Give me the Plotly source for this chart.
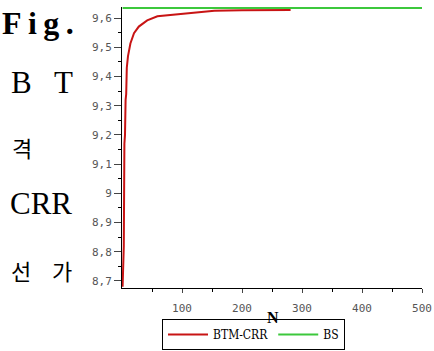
import plotly.graph_objects as go

# Data
crr_n = [1, 2, 3, 4, 5, 6, 7, 8, 10, 14, 20, 28, 42, 59, 84, 115, 137, 154, 200, 281]
crr_v = [8.68, 8.80, 8.82, 9.17, 9.20, 9.32, 9.34, 9.43, 9.47, 9.513, 9.548, 9.571, 9.592,
         9.606, 9.611, 9.617, 9.623, 9.625, 9.627, 9.628]
bs_n = [1, 500]
bs_v = [9.635, 9.635]
series_names = ["BTM-CRR", "BS"]
x_ticks = [100, 200, 300, 400, 500]
x_minor = [50, 150, 250, 350, 450]

W, H = 434, 351
L, R, T, B = 122, 12, 7, 63
pw, ph = W - L - R, H - T - B

def px(x):
    return (x - L) / pw

def py(y):
    return (H - B - y) / ph

fig = go.Figure()
fig.add_trace(go.Scatter(x=crr_n, y=crr_v, mode="lines", name=series_names[0],
                         line=dict(color="#c81414", width=2)))
fig.add_trace(go.Scatter(x=bs_n, y=bs_v, mode="lines", name=series_names[1],
                         line=dict(color="#3cc83c", width=2)))

tickfont = dict(family="DejaVu Sans Mono", size=11, color="#555")
fig.update_xaxes(range=[0, 500], tickvals=x_ticks, ticks="outside", ticklen=4,
                 ticklabelstandoff=6,
                 showline=True, linecolor="black", linewidth=1, showgrid=False, zeroline=False,
                 tickfont=tickfont, automargin=False,
                 minor=dict(ticks="outside", ticklen=3, tickvals=x_minor, tickcolor="black"))
fig.update_yaxes(range=[8.676, 9.638], dtick=0.1, tick0=8.7, ticks="outside", ticklen=7,
                 showline=True, linecolor="black", linewidth=1, showgrid=False, zeroline=False,
                 tickfont=tickfont, automargin=False,
                 minor=dict(ticks="outside", ticklen=3, dtick=0.05, tickcolor="black"))

serif = "Liberation Serif"
cjk = "Noto Sans CJK KR"
side = [
    ("<b>F&#8201;i&#8201;g&#8201;.</b>", 0, 23, serif, 32),
    ("B", 9, 82, serif, 31),
    ("T", 52, 82, serif, 31),
    ("격", 10, 147, cjk, 22),
    ("CRR", 8, 203, serif, 31),
    ("선", 9, 270, cjk, 22),
    ("가", 50, 270, cjk, 22),
]
ann = []
for txt, x, y, fam, sz in side:
    ann.append(dict(text=txt, x=px(x), y=py(y), xanchor="left", yanchor="middle",
                    font=dict(family=fam, size=sz, color="black")))
ann.append(dict(text="<b>N</b>", x=px(273), y=py(317), xanchor="center", yanchor="middle",
                font=dict(family=serif, size=16, color="black")))
for a in ann:
    a.update(xref="paper", yref="paper", showarrow=False)

fig.update_layout(
    width=W, height=H,
    margin=dict(l=L, r=R, t=T, b=B, autoexpand=False),
    paper_bgcolor="white", plot_bgcolor="white",
    separators=",.",
    showlegend=True,
    legend=dict(orientation="h", x=px(162), y=py(350), xanchor="left", yanchor="bottom",
                bordercolor="black", borderwidth=1, bgcolor="white",
                font=dict(family="DejaVu Serif Condensed", size=12, color="black"),
                itemwidth=40, tracegroupgap=0),
    annotations=ann,
)

fig.write_html("out.html", config={"displayModeBar": False},
               post_script="document.body.style.margin='0';document.body.style.padding='0';")
